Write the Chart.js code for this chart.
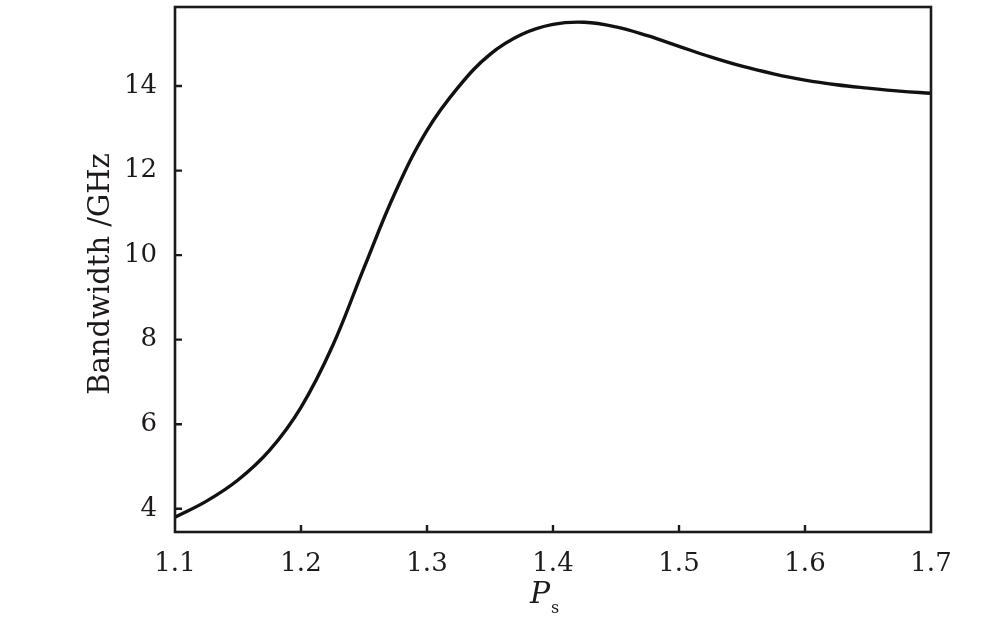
<!DOCTYPE html>
<html>
<head>
<meta charset="utf-8">
<script src="https://cdn.jsdelivr.net/npm/chart.js@4.4.1/dist/chart.umd.min.js"></script>
<style>
  html, body { margin: 0; padding: 0; background: #ffffff; }
  #wrap { width: 1000px; height: 617px; }
</style>
</head>
<body>
<div id="wrap"><canvas id="c" width="1000" height="617"></canvas></div>
<script>
// P_s values (x) and bandwidth in GHz (y)
const pValues = [1.100, 1.125, 1.150, 1.175, 1.200, 1.225, 1.250, 1.275, 1.300, 1.325,
                 1.350, 1.375, 1.400, 1.425, 1.450, 1.475, 1.500, 1.525, 1.550, 1.575,
                 1.600, 1.625, 1.650, 1.675, 1.700];
const bandwidth = [3.80, 4.18, 4.68, 5.38, 6.40, 7.85, 9.70, 11.50, 12.95, 13.98,
                   14.75, 15.22, 15.46, 15.51, 15.40, 15.19, 14.94, 14.69, 14.47, 14.29,
                   14.14, 14.03, 13.95, 13.88, 13.83];
const xTicks = [1.1, 1.2, 1.3, 1.4, 1.5, 1.6, 1.7];
const yTicks = [4, 6, 8, 10, 12, 14];
const yTitle = 'Bandwidth /GHz';
const xTitleMain = 'P';
const xTitleSub = 's';

const ink = '#1e1a1b';
const serif = "'DejaVu Serif', serif";

const framePlugin = {
  id: 'frame',
  afterDraw(chart) {
    const ctx = chart.ctx;
    const a = chart.chartArea;
    const xs = chart.scales.x, ys = chart.scales.y;
    ctx.save();
    ctx.strokeStyle = ink;
    ctx.lineWidth = 2.6;
    ctx.strokeRect(a.left, a.top, a.right - a.left, a.bottom - a.top);
    // inward ticks
    ctx.lineWidth = 2.4;
    ctx.beginPath();
    xs.ticks.forEach(t => {
      const px = xs.getPixelForValue(t.value);
      if (px > a.left + 2 && px < a.right - 2) {
        ctx.moveTo(px, a.bottom);
        ctx.lineTo(px, a.bottom - 7);
      }
    });
    ys.ticks.forEach(t => {
      const py = ys.getPixelForValue(t.value);
      ctx.moveTo(a.left, py);
      ctx.lineTo(a.left + 7, py);
    });
    ctx.stroke();
    // axis titles
    ctx.fillStyle = ink;
    ctx.textBaseline = 'alphabetic';
    ctx.font = "29px " + serif;
    ctx.save();
    ctx.translate(109, 274);
    ctx.rotate(-Math.PI / 2);
    ctx.textAlign = 'center';
    ctx.fillText(yTitle, 0, 0);
    ctx.restore();
    ctx.textAlign = 'left';
    ctx.font = "italic 30px " + serif;
    ctx.fillText(xTitleMain, 530, 602.5);
    ctx.font = "16px " + serif;
    ctx.fillText(xTitleSub, 551, 613);
    ctx.restore();
  }
};

new Chart(document.getElementById('c'), {
  type: 'line',
  data: {
    datasets: [{
      data: pValues.map((p, i) => ({ x: p, y: bandwidth[i] })),
      borderColor: '#111111',
      borderWidth: 3.4,
      pointRadius: 0,
      fill: false,
      tension: 0.4
    }]
  },
  options: {
    responsive: false,
    animation: false,
    layout: { padding: { left: 0, top: 7, right: 69, bottom: 0 } },
    plugins: { legend: { display: false }, tooltip: { enabled: false } },
    scales: {
      x: {
        type: 'linear',
        min: 1.1,
        max: 1.7,
        afterBuildTicks: s => { s.ticks = xTicks.map(v => ({ value: v })); },
        afterFit: s => { s.height = 85; s.paddingLeft = 0; s.paddingRight = 0; },
        grid: { display: false },
        border: { display: false },
        ticks: {
          padding: 9,
          color: ink,
          font: { family: serif, size: 26 },
          maxRotation: 0,
          callback: v => v.toFixed(1)
        }
      },
      y: {
        type: 'linear',
        min: 3.45,
        max: 15.87,
        afterBuildTicks: s => { s.ticks = yTicks.map(v => ({ value: v })); },
        afterFit: s => { s.width = 175; s.paddingTop = 0; s.paddingBottom = 0; },
        grid: { display: false },
        border: { display: false },
        ticks: {
          padding: 10,
          color: ink,
          font: { family: serif, size: 26 },
          callback: v => String(v)
        }
      }
    }
  },
  plugins: [framePlugin]
});
</script>
</body>
</html>
